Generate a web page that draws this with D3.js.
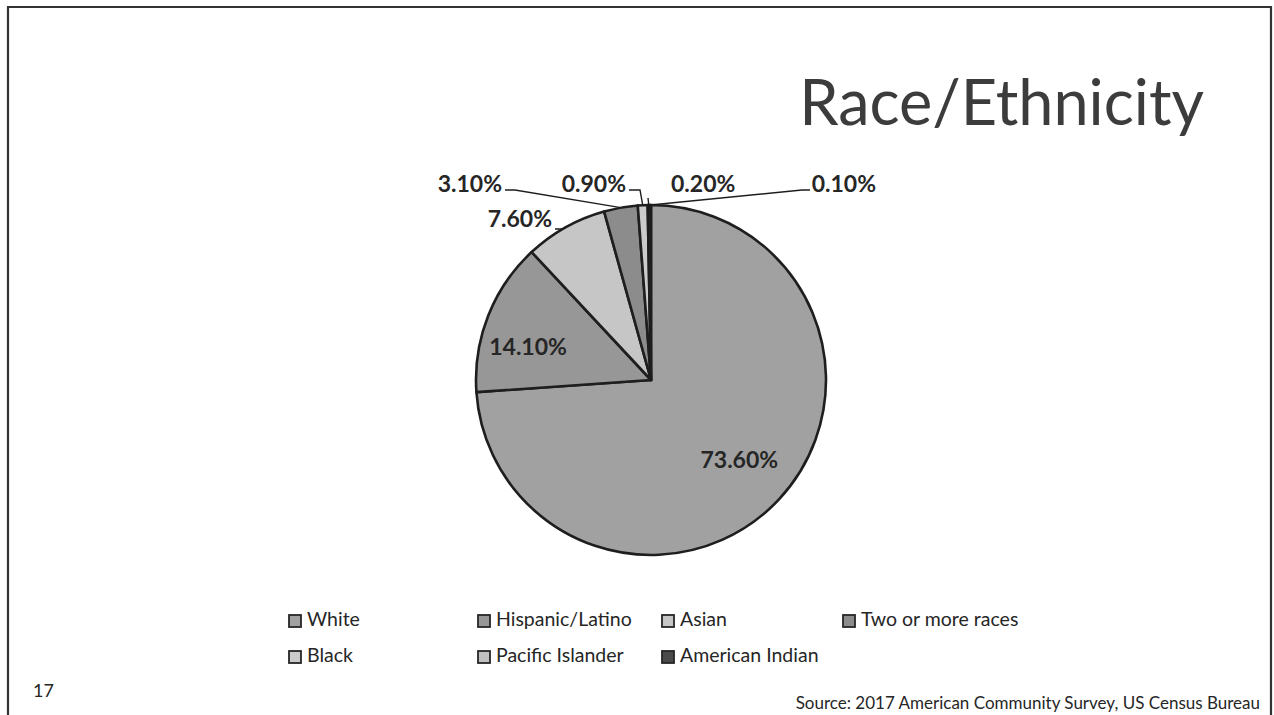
<!DOCTYPE html>
<html>
<head>
<meta charset="utf-8">
<script src="https://cdn.jsdelivr.net/npm/d3@7/dist/d3.min.js"></script>
<style>
  html, body { margin: 0; padding: 0; background: #fff; }
  svg { display: block; }
</style>
</head>
<body>
<svg id="slide" width="1274" height="715"></svg>
<script>
// Race/Ethnicity shares, 2017 ACS
const categories = ["White", "Hispanic/Latino", "Asian", "Two or more races", "Black", "Pacific Islander", "American Indian"];
const values = [73.6, 14.1, 7.6, 3.1, 0.9, 0.2, 0.1];
const valueLabels = ["73.60%", "14.10%", "7.60%", "3.10%", "0.90%", "0.20%", "0.10%"];
const fills = ["#a1a1a1", "#979797", "#c6c6c6", "#8c8c8c", "#cbcbcb", "#c0c0c0", "#4a4a4a"];

const svg = d3.select("#slide");
const W = 1274, H = 715;
const font = "Lato, 'Open Sans', sans-serif";

// slide frame
svg.append("path")
  .attr("d", `M8,${H} L8,7 L1271,7 L1271,${H}`)
  .attr("fill", "none").attr("stroke", "#333").attr("stroke-width", 2.2);

// title
svg.append("text")
  .attr("x", 1204).attr("y", 125)
  .attr("text-anchor", "end")
  .attr("font-family", font).attr("font-size", 63).attr("font-weight", 400)
  .attr("fill", "#3c3c3c")
  .text("Race/Ethnicity");

// pie
const cx = 651, cy = 380, R = 175;
const pie = d3.pie().sort(null).value(d => d.v);
const data = categories.map((c, i) => ({ c, v: values[i], label: valueLabels[i], fill: fills[i] }));
const arcs = pie(data);
const arc = d3.arc().innerRadius(0).outerRadius(R);

const g = svg.append("g").attr("transform", `translate(${cx},${cy})`);
g.selectAll("path.slice")
  .data(arcs)
  .join("path")
  .attr("class", "slice")
  .attr("d", arc)
  .attr("fill", d => d.data.fill)
  .attr("stroke", "#1e1e1e")
  .attr("stroke-width", 2.6)
  .attr("stroke-linejoin", "round");

// value labels
const labelStyle = sel => sel
  .attr("font-family", font).attr("font-size", 23).attr("font-weight", 700)
  .attr("fill", "#262626").attr("dominant-baseline", "middle");

// big slices: label inside
const insideOffsets = { 0: [0.69, 0, 0], 1: [0.70, -9, 14] };
arcs.forEach((a, i) => {
  if (!(i in insideOffsets)) return;
  const [f, dx, dy] = insideOffsets[i];
  const m = (a.startAngle + a.endAngle) / 2;
  const x = Math.sin(m) * R * f + dx, y = -Math.cos(m) * R * f + dy;
  g.append("text").attr("x", x).attr("y", y).attr("text-anchor", "middle")
    .call(labelStyle).text(a.data.label);
});

// small slices: label outside with leader lines ending at the slice edge
const outside = {
  2: { x: 552, y: 221, anchor: "end", path: [[555, 229], [563, 229]] },
  3: { x: 502, y: 186, anchor: "end", path: [[505, 190], [515, 190]] },
  4: { x: 626, y: 186, anchor: "end", path: [[629, 190], [640, 190]] },
  5: { x: 671, y: 186, anchor: "start", path: [[648, 198]] },
  6: { x: 876, y: 186, anchor: "end", path: [[810, 190], [802, 190]] }
};
arcs.forEach((a, i) => {
  const o = outside[i];
  if (!o) return;
  const m = (a.startAngle + a.endAngle) / 2;
  const ex = cx + Math.sin(m) * R, ey = cy - Math.cos(m) * R;
  const pts = o.path.concat([[ex, ey]]);
  svg.append("path")
    .attr("d", d3.line()(pts))
    .attr("fill", "none").attr("stroke", "#1e1e1e").attr("stroke-width", 1.4);
  svg.append("text").attr("x", o.x).attr("y", o.y).attr("text-anchor", o.anchor)
    .call(labelStyle).text(a.data.label);
});

// legend
const legendCols = [289, 478, 662, 843];
const legendRows = [621, 657];
const perRow = 4;
const lg = svg.append("g");
data.forEach((d, i) => {
  const x = legendCols[i % perRow], y = legendRows[Math.floor(i / perRow)];
  lg.append("rect")
    .attr("x", x).attr("y", y - 6).attr("width", 12).attr("height", 12)
    .attr("fill", d.fill).attr("stroke", "#262626").attr("stroke-width", 1.8);
  lg.append("text")
    .attr("x", x + 18).attr("y", y)
    .attr("dominant-baseline", "middle")
    .attr("font-family", font).attr("font-size", 19.5)
    .attr("fill", "#262626")
    .text(d.c);
});

// slide number and source
svg.append("text").attr("x", 33).attr("y", 697)
  .attr("font-family", font).attr("font-size", 18).attr("fill", "#262626").text("17");
svg.append("text").attr("x", 1260).attr("y", 709).attr("text-anchor", "end")
  .attr("font-family", font).attr("font-size", 17).attr("fill", "#262626")
  .text("Source: 2017 American Community Survey, US Census Bureau");
</script>
</body>
</html>
